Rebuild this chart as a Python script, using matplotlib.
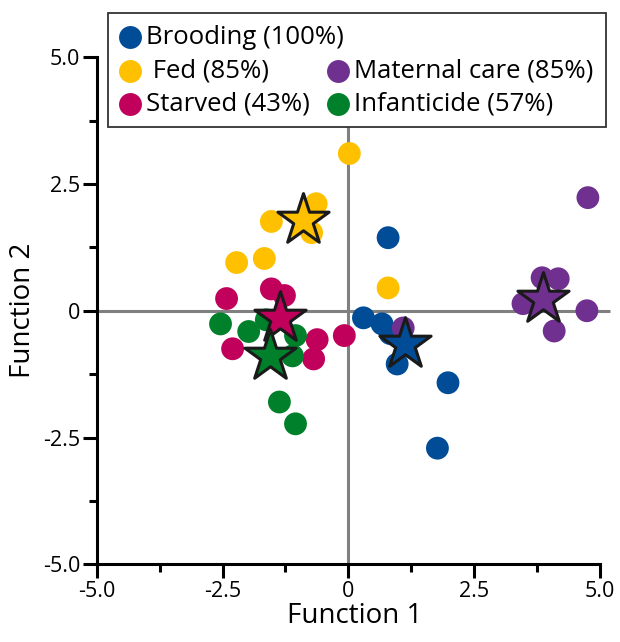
"""Discriminant function scores for the five parental-state groups."""

import matplotlib
matplotlib.use("Agg")
import matplotlib.pyplot as plt
from matplotlib.lines import Line2D
from matplotlib.patches import Rectangle

# ---------------------------------------------------------------------------
# Data
# ---------------------------------------------------------------------------

BROODING_X = [0.79, 0.30, 0.67, 0.83, 0.97, 1.98, 1.77]
BROODING_Y = [1.44, -0.14, -0.26, -0.45, -1.05, -1.42, -2.71]

FED_X = [0.02, -0.64, -1.53, -0.73, -2.22, -1.67, 0.79]
FED_Y = [3.10, 2.11, 1.76, 1.54, 0.95, 1.03, 0.45]

STARVED_X = [-2.42, -1.53, -1.27, -2.30, -0.62, -0.69, -0.08]
STARVED_Y = [0.24, 0.43, 0.30, -0.75, -0.57, -0.95, -0.49]

INFANTICIDE_X = [-2.54, -1.98, -1.63, -1.05, -1.11, -1.37, -1.05]
INFANTICIDE_Y = [-0.26, -0.41, -0.18, -0.49, -0.89, -1.80, -2.23]

MATERNAL_X = [4.76, 3.85, 4.17, 3.47, 4.74, 4.09, 1.09]
MATERNAL_Y = [2.23, 0.65, 0.63, 0.14, 0.00, -0.40, -0.34]

# group centroids (stars)
CENTROID_NAMES = ["Fed", "Starved", "Infanticide", "Brooding", "Maternal"]
CENTROID_X = [-0.90, -1.35, -1.55, 1.13, 3.87]
CENTROID_Y = [1.78, -0.14, -0.89, -0.65, 0.24]

LABELS = {
    "Brooding": "Brooding (100%)",
    "Fed": " Fed (85%)",
    "Maternal": "Maternal care (85%)",
    "Starved": "Starved (43%)",
    "Infanticide": "Infanticide (57%)",
}

COLORS = {
    "Brooding": "#004c97",
    "Fed": "#ffc000",
    "Maternal": "#703090",
    "Starved": "#c0005a",
    "Infanticide": "#00802a",
}

X_TICKS = [-5.0, -2.5, 0.0, 2.5, 5.0]
X_TICKLABELS = ["-5.0", "-2.5", "0", "2.5", "5.0"]
Y_TICKS = [-5.0, -2.5, 0.0, 2.5, 5.0]
Y_TICKLABELS = ["-5.0", "-2.5", "0", "2.5", "5.0"]

# legend layout: (group, column, row)
LEGEND_ORDER = [
    ("Brooding", 0, 0),
    ("Fed", 0, 1),
    ("Starved", 0, 2),
    ("Maternal", 1, 1),
    ("Infanticide", 1, 2),
]

# ---------------------------------------------------------------------------
# Figure
# ---------------------------------------------------------------------------

W, H = 620, 642
plt.rcParams["font.family"] = ["Open Sans", "DejaVu Sans"]

fig = plt.figure(figsize=(W / 100, H / 100), dpi=100)
ax = fig.add_axes([0.156, 0.121, 0.832, 0.790])

ax.set_xlim(-5.0, 5.25)
ax.set_ylim(-5.0, 5.0)

# crosshair through the origin
ax.axvline(0, color="#808080", linewidth=2.2, zorder=1)
ax.hlines(0, -5.0, 5.2, color="#808080", linewidth=2.2, zorder=1)

groups = [
    ("Brooding", BROODING_X, BROODING_Y),
    ("Fed", FED_X, FED_Y),
    ("Starved", STARVED_X, STARVED_Y),
    ("Infanticide", INFANTICIDE_X, INFANTICIDE_Y),
    ("Maternal", MATERNAL_X, MATERNAL_Y),
]
for name, xs, ys in groups:
    ax.scatter(xs, ys, s=270, color=COLORS[name], edgecolors="none",
               zorder=2, clip_on=False)

for name, cx, cy in zip(CENTROID_NAMES, CENTROID_X, CENTROID_Y):
    ax.scatter([cx], [cy], s=1500, marker="*", color=COLORS[name],
               edgecolors="#1a1a1a", linewidths=2.2, zorder=3)

# spines / ticks
for side in ("top", "right"):
    ax.spines[side].set_visible(False)
for side in ("left", "bottom"):
    ax.spines[side].set_linewidth(2.2)
ax.spines["bottom"].set_bounds(-5.0, 5.0)

ax.set_xticks(X_TICKS)
ax.set_xticklabels(X_TICKLABELS)
ax.set_yticks(Y_TICKS)
ax.set_yticklabels(Y_TICKLABELS)
ax.set_xticks([-3.75, -1.25, 1.25, 3.75], minor=True)
ax.set_yticks([-3.75, -1.25, 1.25, 3.75], minor=True)
ax.tick_params(which="major", length=10, width=2.2, labelsize=15.5, pad=2)
ax.tick_params(which="minor", length=6, width=2.2)

ax.set_xlabel("Function 1", fontsize=20, labelpad=0)
ax.set_ylabel("Function 2", fontsize=20, labelpad=4)

# ---------------------------------------------------------------------------
# Legend, hand-placed (second column starts under the end of "Brooding")
# ---------------------------------------------------------------------------

def fx(px):
    return px / W


def fy(py):
    return 1 - py / H


box_l, box_t, box_r, box_b = 108, 13, 606, 127
fig.add_artist(Rectangle((fx(box_l), fy(box_b)), fx(box_r - box_l),
                         (box_b - box_t) / H, transform=fig.transFigure,
                         facecolor="white", edgecolor="#333333",
                         linewidth=1.3, zorder=5))

col_marker = [130, 338]
col_text = [146, 354]
row_y = [37, 71, 104]
for name, col, row in LEGEND_ORDER:
    fig.add_artist(Line2D([fx(col_marker[col])], [fy(row_y[row])],
                          transform=fig.transFigure, linestyle="none",
                          marker="o", markersize=16.5,
                          markerfacecolor=COLORS[name],
                          markeredgecolor="none", zorder=6))
    fig.text(fx(col_text[col]), fy(row_y[row]), LABELS[name],
             fontsize=18.5, ha="left", va="center", zorder=6)

fig.savefig("out.png", dpi=100)
